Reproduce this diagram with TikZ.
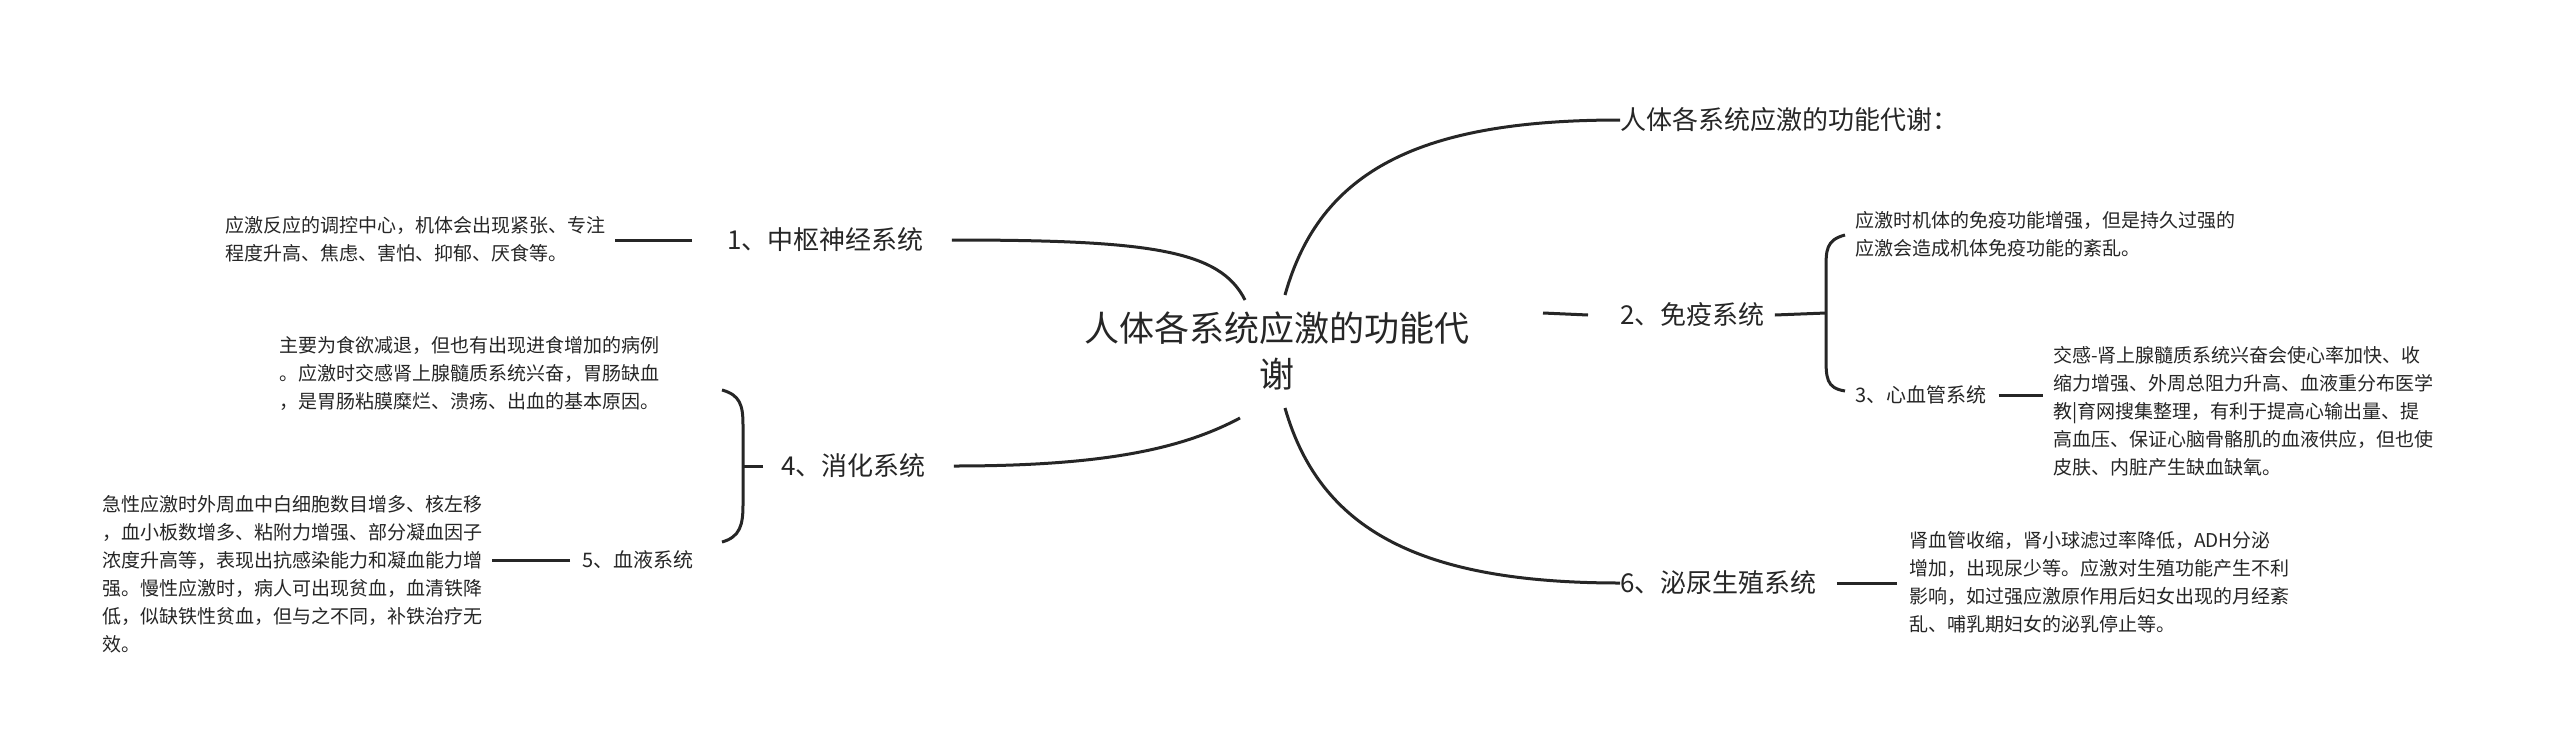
\documentclass[tikz,border=0pt]{standalone}
\usepackage{fontspec}
\setmainfont{Noto Sans CJK SC}
\begin{document}
\begin{tikzpicture}[x=1pt,y=-1pt,
  ln/.style={line width=3pt,black!85},
  sm/.style={anchor=west,align=left,inner sep=0pt,font=\fontsize{19}{28}\selectfont,text=black!85},
  br/.style={anchor=west,inner sep=0pt,font=\fontsize{26}{30}\selectfont,text=black!85},
  ctr/.style={align=center,inner sep=0pt,font=\fontsize{35}{46}\selectfont,text=black!85}]
\useasboundingbox[fill=white] (0,0) rectangle (2560,737);
\node[ctr] (c) at (1277,351) {人体各系统应激的功能代\\谢};
% right
\node[br] (t) at (1620,120) {人体各系统应激的功能代谢：};
\node[br] (m) at (1620,315) {2、免疫系统};
\node[br] (u) at (1620,583) {6、泌尿生殖系统};
\coordinate (cr1) at (1285,295);
\coordinate (cr2) at (1285,408);
\draw[ln] (cr1) .. controls (1320,170) and (1420,120) .. (t.west);
\draw[ln] (cr2) .. controls (1320,530) and (1420,583) .. (u.west);
\coordinate (ml) at (1543,313);
\draw[ln] (ml) -- ([xshift=-32]m.west);
\coordinate (mb1) at (1826,313);
\draw[ln] ([xshift=10]m.east) -- (mb1);
\draw[ln] (1845,235) .. controls (1826,240) and (1826,250) .. (1826,270) -- (1826,355) .. controls (1826,378) and (1826,388) .. (1845,391);
\node[sm] (mt) at (1855,234) {应激时机体的免疫功能增强，但是持久过强的\\应激会造成机体免疫功能的紊乱。};
\node[sm,font=\fontsize{20}{28}\selectfont] (cv) at (1855,395) {3、心血管系统};
\node[sm] (cvt) at (2053,411) {交感-肾上腺髓质系统兴奋会使心率加快、收\\缩力增强、外周总阻力升高、血液重分布医学\\教|育网搜集整理，有利于提高心输出量、提\\高血压、保证心脑骨骼肌的血液供应，但也使\\皮肤、内脏产生缺血缺氧。};
\draw[ln] ([xshift=12]cv.east) -- ([xshift=-10]cvt.west |- cv.east);
\node[sm] (ut) at (1909,582) {肾血管收缩，肾小球滤过率降低，ADH分泌\\增加，出现尿少等。应激对生殖功能产生不利\\影响，如过强应激原作用后妇女出现的月经紊\\乱、哺乳期妇女的泌乳停止等。};
\draw[ln] ([xshift=20]u.east) -- ([xshift=-12]ut.west |- u.east);
% left
\node[br] (n1) at (727,240) {1、中枢神经系统};
\node[br] (n4) at (781,466) {4、消化系统};
\coordinate (cl1) at (1245,300);
\coordinate (cl2) at (1240,418);
\draw[ln] ([xshift=28]n1.east) .. controls (1150,240) and (1220,250) .. (cl1);
\draw[ln] ([xshift=28]n4.east) .. controls (1100,466) and (1180,450) .. (cl2);
\node[sm] (n1t) at (225,239) {应激反应的调控中心，机体会出现紧张、专注\\程度升高、焦虑、害怕、抑郁、厌食等。};
\draw[ln] ([xshift=-35]n1.west) -- ([xshift=10]n1t.east |- n1.west);
\draw[ln] ([xshift=-18]n4.west) -- (743,466);
\draw[ln] (722,390) .. controls (740,395) and (743,405) .. (743,425) -- (743,505) .. controls (743,525) and (740,537) .. (722,542);
\node[sm] (n4t) at (279,373) {主要为食欲减退，但也有出现进食增加的病例\\。应激时交感肾上腺髓质系统兴奋，胃肠缺血\\，是胃肠粘膜糜烂、溃疡、出血的基本原因。};
\node[sm,font=\fontsize{20}{28}\selectfont] (n5) at (582,560) {5、血液系统};
\node[sm] (n5t) at (102,574) {急性应激时外周血中白细胞数目增多、核左移\\，血小板数增多、粘附力增强、部分凝血因子\\浓度升高等，表现出抗感染能力和凝血能力增\\强。慢性应激时，病人可出现贫血，血清铁降\\低，似缺铁性贫血，但与之不同，补铁治疗无\\效。};
\draw[ln] ([xshift=-12]n5.west) -- ([xshift=10]n5t.east |- n5.west);
\end{tikzpicture}
\end{document}
